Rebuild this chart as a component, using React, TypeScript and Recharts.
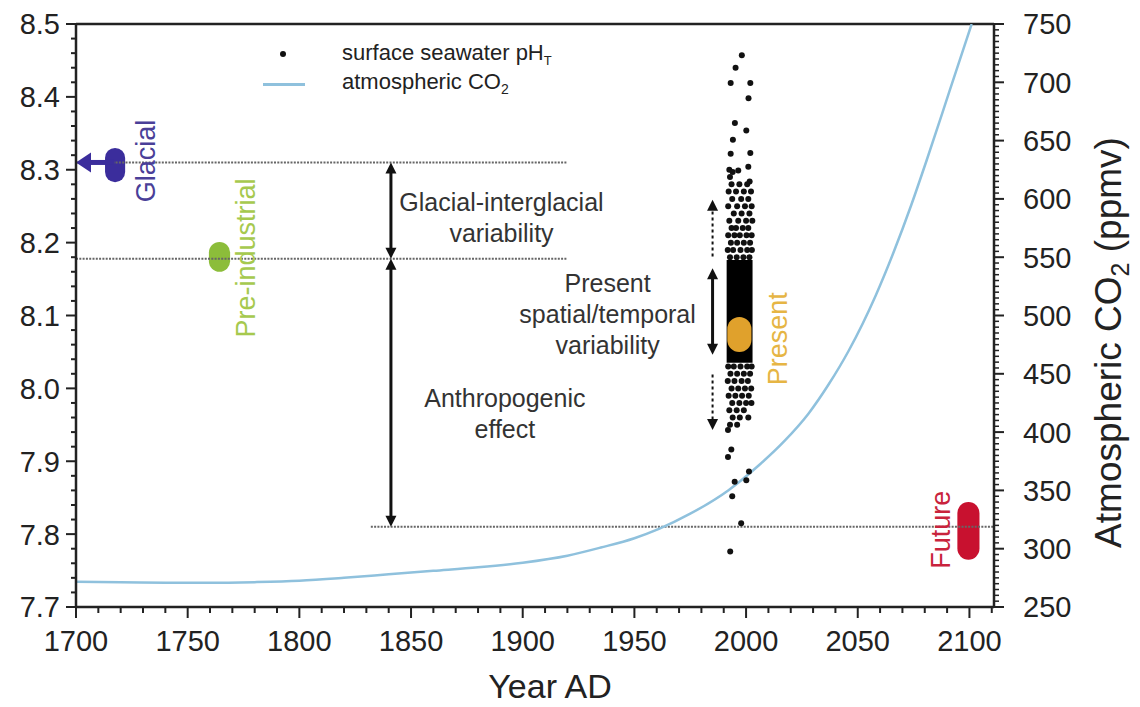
import React from "react";
import {
  ComposedChart,
  Line,
  Scatter,
  XAxis,
  YAxis,
  ReferenceLine,
  ReferenceArea,
  ReferenceDot,
  Legend,
} from "recharts";

const FONT = "'Liberation Sans', Arial, Helvetica, sans-serif";
const INK = "#222";

// axis ticks
const yearMajor = [1700, 1750, 1800, 1850, 1900, 1950, 2000, 2050, 2100];
const phMajor = [7.7, 7.8, 7.9, 8.0, 8.1, 8.2, 8.3, 8.4, 8.5];
const co2Major = [250, 300, 350, 400, 450, 500, 550, 600, 650, 700, 750];

const steps = (from: number, to: number, step: number) => {
  const out: number[] = [];
  for (let i = 0; from + i * step <= to + 1e-9; i++) out.push(+(from + i * step).toFixed(2));
  return out;
};
const yearTicks = steps(1700, 2110, 10);
const phTicks = steps(7.7, 8.5, 0.02);
const co2Ticks = steps(250, 750, 5);

// atmospheric CO2 curve (ppmv)
const co2Years = [1700, 1720, 1740, 1760, 1780, 1800, 1820, 1840, 1860, 1880, 1900, 1920, 1935, 1950, 1961, 1975, 1992, 2006, 2017, 2028, 2037, 2046, 2058, 2066, 2074, 2081, 2091, 2101];
const co2Values = [271.7, 271.3, 270.9, 270.7, 271.3, 272.5, 275, 278, 281, 284, 288, 294, 301, 309, 317, 330, 350, 372, 392, 416, 441, 470, 517, 554, 595, 634, 692, 750];

// surface seawater pH_T samples around year 2000 [year, pH]
const phSparseHigh = [
  [1998.1, 8.457], [1995.3, 8.44], [1993.1, 8.419], [2001.9, 8.419], [2001.1, 8.398],
  [1995.0, 8.364], [2000.1, 8.354], [1994.1, 8.341], [2001.9, 8.323], [1993.1, 8.322],
  [2001.0, 8.304], [1992.5, 8.3], [1994.0, 8.297], [1996.5, 8.299], [2001.6, 8.284], [1992.8, 8.29],
];
const phDenseHigh = [
  [1993.5, 8.28], [1997.0, 8.28], [2000.5, 8.28],
  [1992.2, 8.27], [1995.5, 8.27], [1999.0, 8.27], [2002.2, 8.27],
  [1993.8, 8.26], [1997.8, 8.26], [2001.0, 8.26],
  [1992.0, 8.25], [1996.0, 8.25], [1999.5, 8.25], [2002.5, 8.25],
  [1994.5, 8.24], [1998.0, 8.24], [2001.5, 8.24],
  [1992.5, 8.23], [1996.5, 8.23], [2000.0, 8.23], [2002.8, 8.23],
  [1993.5, 8.22], [1995.5, 8.22], [1998.5, 8.22], [2001.0, 8.22],
  [1992.0, 8.21], [1994.8, 8.21], [1997.2, 8.21], [2000.2, 8.21], [2002.5, 8.21],
  [1993.2, 8.2], [1996.0, 8.2], [1999.0, 8.2], [2001.8, 8.2],
  [1991.8, 8.19], [1994.2, 8.19], [1997.5, 8.19], [2000.5, 8.19], [2002.6, 8.19],
  [1992.8, 8.18], [1995.8, 8.18], [1998.8, 8.18], [2001.5, 8.18],
];
const phDenseLow = [
  [1992.0, 8.03], [1994.5, 8.03], [1997.5, 8.03], [2000.5, 8.03], [2002.5, 8.03],
  [1993.0, 8.02], [1996.0, 8.02], [1999.0, 8.02], [2001.8, 8.02],
  [1991.8, 8.01], [1994.8, 8.01], [1998.0, 8.01], [2000.8, 8.01],
  [1993.5, 8.0], [1996.5, 8.0], [1999.5, 8.0], [2002.3, 8.0],
  [1992.2, 7.99], [1995.2, 7.99], [1998.2, 7.99], [2001.2, 7.99],
  [1993.8, 7.98], [1997.0, 7.98], [2000.0, 7.98], [2002.4, 7.98],
  [1992.5, 7.97], [1995.8, 7.97], [1999.0, 7.97],
  [1994.0, 7.96], [1997.2, 7.96], [2001.0, 7.96],
  [1992.8, 7.95], [1996.0, 7.95],
];
const phSparseLow = [
  [1991.9, 7.943], [1993.4, 7.916], [1991.9, 7.906], [2001.3, 7.886], [1994.9, 7.872],
  [2000.1, 7.874], [1993.8, 7.852], [1997.8, 7.815], [1992.9, 7.776],
];
// the saturated black band of observations
const phBand = { x1: 1991.3, x2: 2002.9, y1: 8.035, y2: 8.176 };

// mean pH by period
const phasePills = [
  { name: "Glacial", x1: 1713, x2: 1722, y1: 8.283, y2: 8.33, fill: "#3b2d9c", text: "#4a3f98", lx: 1731, ly: 8.312 },
  { name: "Pre-industrial", x1: 1759.5, x2: 1769, y1: 8.16, y2: 8.201, fill: "#8cbd3a", text: "#a6c94e", lx: 1775.6, ly: 8.179 },
  { name: "Present", x1: 1991.6, x2: 2002.4, y1: 8.05, y2: 8.098, fill: "#e0a12c", text: "#e6b544", lx: 2014, ly: 8.068 },
  { name: "Future", x1: 2094.6, x2: 2104.5, y1: 7.765, y2: 7.844, fill: "#c8112f", text: "#c9233c", lx: 2087, ly: 7.806 },
];

// dotted reference levels
const levelLines = [
  { ph: 8.31, from: 1700, to: 1920 },
  { ph: 8.178, from: 1700, to: 1920 },
  { ph: 7.81, from: 1832, to: 2111 },
];

// range arrows
const rangeArrows = [
  { year: 1841, from: 8.31, to: 8.178, both: true, dashed: false },
  { year: 1841, from: 8.178, to: 7.81, both: true, dashed: false },
  { year: 1985, from: 8.181, to: 8.259, both: false, dashed: true },
  { year: 1985, from: 8.165, to: 8.046, both: true, dashed: false },
  { year: 1985, from: 8.019, to: 7.943, both: false, dashed: true },
];

const notes = [
  { year: 1890.5, ph: 8.256, lines: ["Glacial-interglacial", "variability"] },
  { year: 1938, ph: 8.145, lines: ["Present", "spatial/temporal", "variability"] },
  { year: 1892, ph: 7.987, lines: ["Anthropogenic", "effect"] },
];

const co2Data = co2Years.map((year, i) => ({ year, co2: co2Values[i] }));
const phData = [...phSparseHigh, ...phDenseHigh, ...phDenseLow, ...phSparseLow].map(([year, ph]) => ({ year, ph }));

const near = (list: number[], v: number) => list.some((m) => Math.abs(m - v) < 1e-6);

function XTick({ x, y, payload }: any) {
  const major = near(yearMajor, payload.value);
  return (
    <g>
      <line x1={x} y1={y} x2={x} y2={y + (major ? 11 : 6)} stroke={INK} strokeWidth={2} />
      {major && (
        <text x={x} y={y + 44} textAnchor="middle" fontSize={29} fill={INK} fontFamily={FONT}>
          {payload.value}
        </text>
      )}
    </g>
  );
}

function PhTick({ x, y, payload }: any) {
  const major = near(phMajor, payload.value);
  return (
    <g>
      <line x1={x} y1={y} x2={x - (major ? 10 : 5)} y2={y} stroke={INK} strokeWidth={2} />
      {major && (
        <text x={x - 16} y={y} dy="0.36em" textAnchor="end" fontSize={29} fill={INK} fontFamily={FONT}>
          {payload.value.toFixed(1)}
        </text>
      )}
    </g>
  );
}

function Co2Tick({ x, y, payload }: any) {
  const major = near(co2Major, payload.value);
  return (
    <g>
      <line x1={x} y1={y} x2={x + (major ? 10 : 5)} y2={y} stroke={INK} strokeWidth={major ? 2 : 1.5} />
      {major && (
        <text x={x + 29} y={y} dy="0.36em" textAnchor="start" fontSize={29} fill={INK} fontFamily={FONT}>
          {payload.value}
        </text>
      )}
    </g>
  );
}

function arrowShape(color: string, w: number, head: number, half: number, startHead: boolean, dash?: string) {
  return (p: any) => {
    const { x1, y1, x2, y2 } = p;
    const len = Math.hypot(x2 - x1, y2 - y1) || 1;
    const ux = (x2 - x1) / len;
    const uy = (y2 - y1) / len;
    const nx = -uy;
    const ny = ux;
    const tri = (tx: number, ty: number, dir: number) => {
      const bx = tx - dir * ux * head;
      const by = ty - dir * uy * head;
      return `${tx},${ty} ${bx + nx * half},${by + ny * half} ${bx - nx * half},${by - ny * half}`;
    };
    const sx = startHead ? x1 + ux * head * 0.8 : x1;
    const sy = startHead ? y1 + uy * head * 0.8 : y1;
    return (
      <g>
        <line x1={sx} y1={sy} x2={x2 - ux * head * 0.8} y2={y2 - uy * head * 0.8} stroke={color} strokeWidth={w} strokeDasharray={dash} />
        {startHead && <polygon points={tri(x1, y1, -1)} fill={color} />}
        <polygon points={tri(x2, y2, 1)} fill={color} />
      </g>
    );
  };
}

const pillShape = (fill: string) => (p: any) => (
  <rect x={p.x} y={p.y} width={p.width} height={p.height} rx={Math.min(p.width, p.height) / 2} fill={fill} />
);

const dotShape = (p: any) => <circle cx={p.cx} cy={p.cy} r={3} fill="#111" />;

const noteLabel = (lines: string[]) => (p: any) => {
  const { x, y } = p.viewBox;
  return (
    <text x={x} y={y} textAnchor="middle" fontSize={25} fill="#333" fontFamily={FONT}>
      {lines.map((l, i) => (
        <tspan key={i} x={x} y={y + i * 31} dy="0.36em">
          {l}
        </tspan>
      ))}
    </text>
  );
};

const phaseLabel = (name: string, color: string) => (p: any) => {
  const { x, y } = p.viewBox;
  return (
    <text x={x} y={y} transform={`rotate(-90 ${x} ${y})`} textAnchor="middle" dy="0.36em" fontSize={27} fill={color} fontFamily={FONT}>
      {name}
    </text>
  );
};

function LegendBox() {
  return (
    <div style={{ position: "relative", width: 330, height: 62, fontFamily: FONT, fontSize: 22, color: INK }}>
      <span style={{ position: "absolute", left: 25, top: 13, width: 6, height: 6, borderRadius: 3, background: "#111" }} />
      <span style={{ position: "absolute", left: 87, top: 1, lineHeight: "28px", whiteSpace: "nowrap" }}>
        surface seawater pH<span style={{ fontSize: 13, position: "relative", top: 5 }}>T</span>
      </span>
      <span style={{ position: "absolute", left: 8, top: 45, width: 42, height: 2.5, background: "#8fc1dd" }} />
      <span style={{ position: "absolute", left: 87, top: 30, lineHeight: "28px", whiteSpace: "nowrap" }}>
        atmospheric CO<span style={{ fontSize: 14, position: "relative", top: 5 }}>2</span>
      </span>
    </div>
  );
}

export default function App() {
  return (
    <div style={{ width: 1140, height: 707, background: "#fff" }}>
      <style>{"body{margin:0}"}</style>
      <ComposedChart width={1140} height={707} margin={{ top: 24, right: 0, bottom: 0, left: 0 }}>
        <XAxis
          dataKey="year"
          type="number"
          domain={[1700, 2111]}
          allowDataOverflow
          ticks={yearTicks}
          interval={0}
          tick={<XTick />}
          tickLine={false}
          tickSize={0}
          tickMargin={0}
          height={100}
          axisLine={{ stroke: INK, strokeWidth: 2.5 }}
          label={(p: any) => {
            const vb = p.viewBox;
            return (
              <text x={vb.x + vb.width / 2 + 15} y={vb.y + 91} textAnchor="middle" fontSize={34} fill={INK} fontFamily={FONT}>
                Year AD
              </text>
            );
          }}
        />
        <YAxis
          yAxisId="ph"
          orientation="left"
          type="number"
          domain={[7.7, 8.5]}
          allowDataOverflow
          ticks={phTicks}
          interval={0}
          tick={<PhTick />}
          tickLine={false}
          tickSize={0}
          tickMargin={0}
          width={76}
          axisLine={{ stroke: INK, strokeWidth: 2.5 }}
        />
        <YAxis
          yAxisId="co2"
          orientation="right"
          type="number"
          domain={[250, 750]}
          allowDataOverflow
          ticks={co2Ticks}
          interval={0}
          tick={<Co2Tick />}
          tickLine={false}
          tickSize={0}
          tickMargin={0}
          width={146}
          axisLine={{ stroke: INK, strokeWidth: 2.5 }}
          label={(p: any) => {
            const vb = p.viewBox;
            const x = vb.x + 127;
            const y = vb.y + vb.height / 2 + 27;
            return (
              <text x={x} y={y} transform={`rotate(-90 ${x} ${y})`} textAnchor="middle" fontSize={37} fill={INK} fontFamily={FONT}>
                Atmospheric CO
                <tspan fontSize={25} dy={8}>2</tspan>
                <tspan dy={-8}> (ppmv)</tspan>
              </text>
            );
          }}
        />

        <ReferenceLine yAxisId="ph" y={8.5} stroke={INK} strokeWidth={2.5} />

        {levelLines.map((l, i) => (
          <ReferenceLine
            key={`lvl${i}`}
            yAxisId="ph"
            segment={[{ x: l.from, y: l.ph }, { x: l.to, y: l.ph }]}
            stroke="#666"
            strokeWidth={2}
            strokeDasharray="2 1.3"
          />
        ))}

        <Line
          yAxisId="co2"
          data={co2Data}
          dataKey="co2"
          type="monotone"
          stroke="#8fc1dd"
          strokeWidth={2.5}
          dot={false}
          isAnimationActive={false}
        />

        <ReferenceArea yAxisId="ph" {...phBand} fill="#000" fillOpacity={1} stroke="none" />
        <Scatter yAxisId="ph" data={phData} dataKey="ph" shape={dotShape} isAnimationActive={false} />

        {phasePills.map((p) => (
          <ReferenceArea
            key={p.name}
            yAxisId="ph"
            x1={p.x1}
            x2={p.x2}
            y1={p.y1}
            y2={p.y2}
            shape={pillShape(p.fill)}
          />
        ))}

        <ReferenceLine
          yAxisId="ph"
          segment={[{ x: 1717, y: 8.31 }, { x: 1700, y: 8.31 }]}
          shape={arrowShape("#3b2d9c", 5, 15, 10, false)}
        />

        {rangeArrows.map((a, i) => (
          <ReferenceLine
            key={`arr${i}`}
            yAxisId="ph"
            segment={[{ x: a.year, y: a.from }, { x: a.year, y: a.to }]}
            shape={arrowShape("#111", a.dashed ? 2 : 3, 11, 5.5, a.both, a.dashed ? "3 3" : undefined)}
          />
        ))}

        {phasePills.map((p) => (
          <ReferenceDot
            key={`lab-${p.name}`}
            yAxisId="ph"
            x={p.lx}
            y={p.ly}
            r={0}
            fill="none"
            stroke="none"
            label={phaseLabel(p.name, p.text)}
          />
        ))}

        {notes.map((n, i) => (
          <ReferenceDot
            key={`note${i}`}
            yAxisId="ph"
            x={n.year}
            y={n.ph}
            r={0}
            fill="none"
            stroke="none"
            label={noteLabel(n.lines)}
          />
        ))}

        <Legend
          align="center"
          verticalAlign="middle"
          content={() => <LegendBox />}
          wrapperStyle={{ left: 255, top: 38, width: 330 }}
        />
      </ComposedChart>
    </div>
  );
}
